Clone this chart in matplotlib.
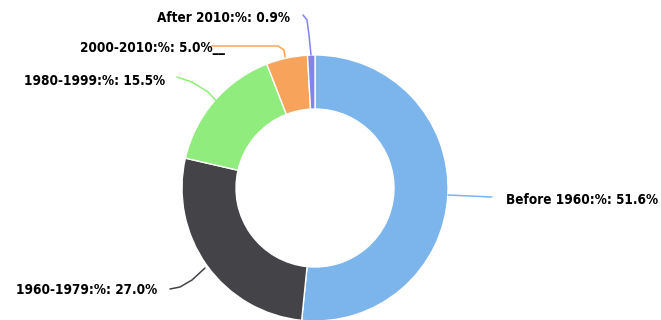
import matplotlib
matplotlib.use("Agg")
from matplotlib import pyplot as plt
from matplotlib.patches import Wedge
import numpy as np

labels = ['Before 1960', '1960-1979', '1980-1999', '2000-2010', 'After 2010']
values = [51.6, 27.0, 15.5, 5.0, 0.9]
colors = ['#7cb5ec', '#434348', '#90ed7d', '#f7a35c', '#8085e9']

fig = plt.figure(figsize=(6.61, 3.20), dpi=100)
ax = fig.add_axes([0, 0, 1, 1])
ax.set_xlim(0, 661)
ax.set_ylim(320, 0)
ax.axis('off')

cx, cy, r_out, r_in = 315, 188, 133, 79

# wedges clockwise from the top; y axis is flipped so angles go positive clockwise
start = -90.0
for v, c in zip(values, colors):
    sweep = v / sum(values) * 360
    ax.add_patch(Wedge((cx, cy), r_out, start, start + sweep, width=r_out - r_in,
                       facecolor=c, edgecolor='white', linewidth=1))
    start += sweep

# connector lines (pixel coords) and label placement
lines = [
    ([448, 470, 492], [195, 196, 197]),
    ([205, 192, 180, 170], [268, 280, 287, 289]),
    ([220, 208, 192, 177], [105, 92, 82, 77]),
    ([285, 284, 278, 212], [57, 50, 46, 46]),
    ([311, 309, 307, 303], [55, 35, 20, 15]),
]
texts = [
    (506, 200, 'left'),
    (157, 290, 'right'),
    (165, 81, 'right'),
    (225, 48, 'right'),
    (290, 18, 'right'),
]
suffix = ['', '', '', '__', '']
for lab, v, c, (lx, ly), (tx, ty, ha), s in zip(labels, values, colors, lines, texts, suffix):
    ax.plot(lx, ly, color=c, linewidth=1.1, solid_capstyle='round')
    ax.text(tx, ty, f'{lab}:%: {v:.1f}%{s}', ha=ha, va='center', fontsize=9.75,
            fontweight='bold', fontstretch='condensed', color='black')

fig.savefig('out.png', dpi=100)
